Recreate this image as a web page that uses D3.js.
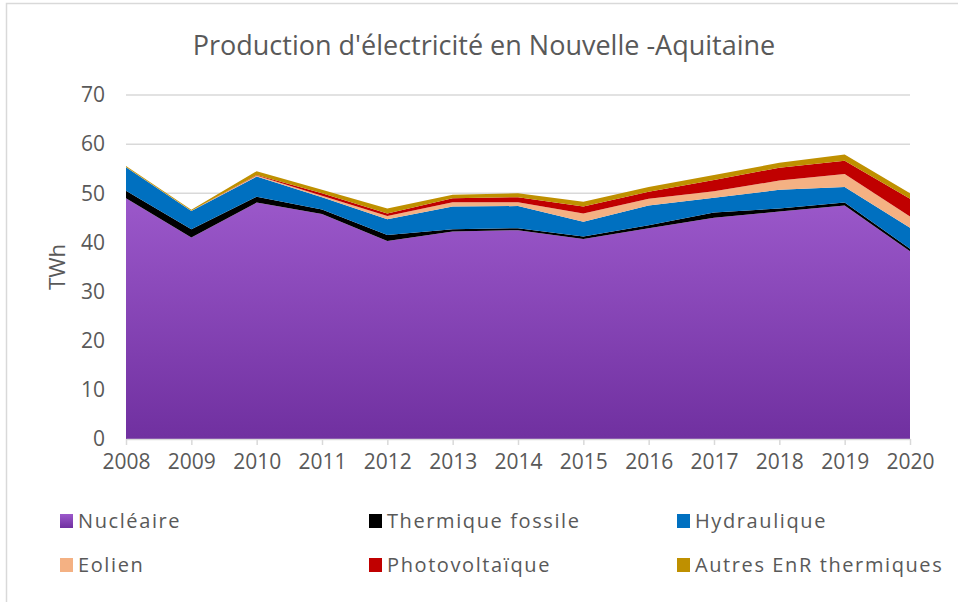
<!DOCTYPE html>
<html>
<head>
<meta charset="utf-8">
<script src="https://cdn.jsdelivr.net/npm/d3@7"></script>
<style>
  body { margin: 0; background: #fff; }
  text { font-family: "Open Sans", sans-serif; fill: #595959; }
</style>
</head>
<body>
<script>
var years = [2008, 2009, 2010, 2011, 2012, 2013, 2014, 2015, 2016, 2017, 2018, 2019, 2020];
var nucleaire   = [49.0, 41.0, 48.1, 45.8, 40.3, 42.2, 42.5, 40.7, 42.9, 45.0, 46.3, 47.5, 38.2];
var thermique   = [1.5, 1.7, 1.2, 0.9, 1.2, 0.5, 0.4, 0.5, 0.6, 1.1, 0.6, 0.6, 0.5];
var hydraulique = [4.8, 3.7, 4.1, 2.5, 3.2, 4.6, 4.5, 3.0, 4.0, 3.0, 3.8, 3.2, 4.3];
var eolien      = [0.05, 0.05, 0.2, 0.3, 0.7, 0.9, 0.8, 1.7, 1.4, 1.3, 1.9, 2.6, 2.3];
var pv          = [0.0, 0.02, 0.1, 0.5, 0.5, 0.8, 1.0, 1.4, 1.4, 2.3, 2.6, 2.7, 3.6];
var autres      = [0.2, 0.2, 0.8, 0.7, 1.0, 0.7, 0.8, 1.0, 1.0, 1.0, 1.0, 1.3, 1.1];
var seriesNames = ["Nucléaire", "Thermique fossile", "Hydraulique", "Eolien", "Photovoltaïque", "Autres EnR thermiques"];
var yTicks = [0, 10, 20, 30, 40, 50, 60, 70];

var colors = ["url(#nucGrad)", "#000000", "#0070c0", "#f4b183", "#c00000", "#bf9000"];
var keys = ["nuc", "the", "hyd", "eol", "pv", "aut"];
var table = years.map(function(y, i) {
  return {year: y, nuc: nucleaire[i], the: thermique[i], hyd: hydraulique[i],
          eol: eolien[i], pv: pv[i], aut: autres[i]};
});

var width = 958, height = 602;
var svg = d3.select("body").append("svg")
  .attr("width", width)
  .attr("height", height);

// chart border (only top and left visible)
svg.append("rect")
  .attr("x", 6.5).attr("y", 3.5)
  .attr("width", 1000).attr("height", 1000)
  .attr("fill", "none")
  .attr("stroke", "#d9d9d9")
  .attr("stroke-width", 1.5);

var x = d3.scaleLinear().domain([2008, 2020]).range([126, 910]);
var y = d3.scaleLinear().domain([0, 70]).range([439, 95]);

var defs = svg.append("defs");
var grad = defs.append("linearGradient")
  .attr("id", "nucGrad")
  .attr("gradientUnits", "userSpaceOnUse")
  .attr("x1", 0).attr("x2", 0)
  .attr("y1", y(50)).attr("y2", y(0));
grad.append("stop").attr("offset", "0%").attr("stop-color", "#9c59cb");
grad.append("stop").attr("offset", "100%").attr("stop-color", "#7030a0");
var grad2 = defs.append("linearGradient")
  .attr("id", "nucLeg")
  .attr("x1", 0).attr("x2", 0).attr("y1", 0).attr("y2", 1);
grad2.append("stop").attr("offset", "0%").attr("stop-color", "#9c59cb");
grad2.append("stop").attr("offset", "100%").attr("stop-color", "#7030a0");

// gridlines
svg.append("g")
  .selectAll("line")
  .data(yTicks.filter(function(d) { return d > 0; }))
  .enter()
  .append("line")
    .attr("x1", x(2008)).attr("x2", x(2020))
    .attr("y1", function(d) { return y(d); })
    .attr("y2", function(d) { return y(d); })
    .attr("stroke", "#d9d9d9")
    .attr("stroke-width", 1.5);

var stack = d3.stack().keys(keys);
var layers = stack(table);

var area = d3.area()
  .x(function(d) { return x(d.data.year); })
  .y0(function(d) { return y(d[0]); })
  .y1(function(d) { return y(d[1]); });

svg.append("g")
  .selectAll("path")
  .data(layers)
  .enter()
  .append("path")
    .attr("d", area)
    .attr("fill", function(d, i) { return colors[i]; });

// x axis
var xAxis = svg.append("g")
  .attr("transform", "translate(0," + y(0) + ")")
  .call(d3.axisBottom(x).tickValues(years).tickFormat(d3.format("d")).tickSizeInner(6).tickSizeOuter(0).tickPadding(9));
xAxis.select(".domain").attr("stroke", "#d9d9d9").attr("stroke-width", 1.5);
xAxis.selectAll(".tick line").attr("stroke", "#d9d9d9").attr("stroke-width", 1.5);
xAxis.selectAll("text")
  .attr("fill", "#595959")
  .style("font-size", "21px")
  .style("font-family", "Open Sans, sans-serif");

// y axis
var yAxis = svg.append("g")
  .attr("transform", "translate(" + 105 + ",0)")
  .call(d3.axisLeft(y).tickValues(yTicks).tickSize(0).tickPadding(0));
yAxis.select(".domain").remove();
yAxis.selectAll("text")
  .attr("fill", "#595959")
  .style("font-size", "21px")
  .style("font-family", "Open Sans, sans-serif");

// title
svg.append("text")
  .attr("x", 484)
  .attr("y", 55)
  .style("text-anchor", "middle")
  .style("font-size", "27px")
  .text("Production d'électricité en Nouvelle -Aquitaine");

// y label
svg.append("text")
  .attr("transform", "translate(65," + 267 + ") rotate(-90)")
  .style("text-anchor", "middle")
  .style("font-size", "22px")
  .text("TWh");

// legend
var legX = [60, 369, 677];
var legY = [521, 565];
var legColors = ["url(#nucLeg)"].concat(colors.slice(1));
var legend = svg.append("g")
  .selectAll("g")
  .data(seriesNames)
  .enter()
  .append("g")
    .attr("transform", function(d, i) {
      return "translate(" + legX[i % 3] + "," + legY[Math.floor(i / 3)] + ")";
    });
legend.append("rect")
  .attr("x", 0).attr("y", -7)
  .attr("width", 13).attr("height", 14)
  .attr("fill", function(d, i) { return legColors[i]; });
legend.append("text")
  .attr("x", 18)
  .attr("y", 7)
  .style("font-size", "20px")
  .style("letter-spacing", "1.6px")
  .text(function(d) { return d; });
</script>
</body>
</html>
